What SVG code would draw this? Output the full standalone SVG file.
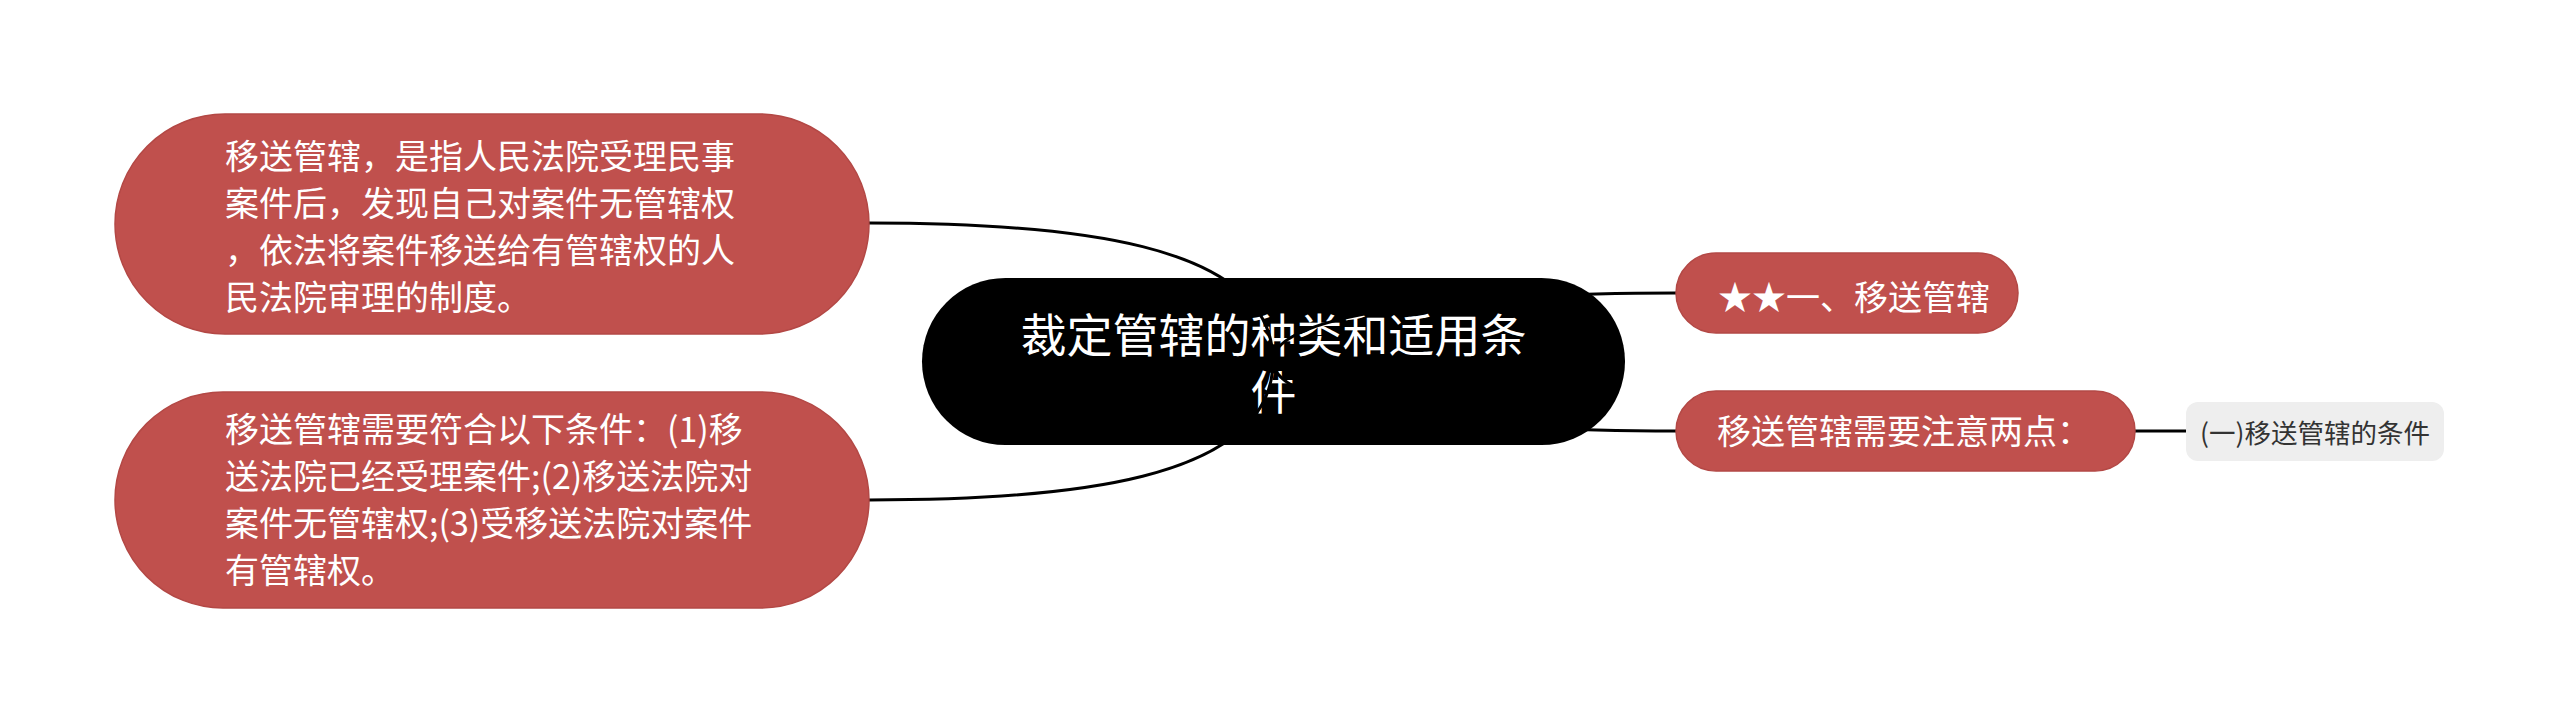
<svg xmlns="http://www.w3.org/2000/svg" width="2560" height="725" viewBox="0 0 2560 725">
<style>
.txt{font-family:"Noto Sans CJK SC","Microsoft YaHei",sans-serif;}
.red{fill:#c0504d;stroke:#b34845;stroke-width:1.5;}
.wt{fill:#ffffff;font-size:34px;}
.link{fill:none;stroke:#000000;stroke-width:3;}
</style>
<rect x="0" y="0" width="2560" height="725" fill="#ffffff"/>
<g id="root">
<rect x="922" y="278" width="703" height="167" rx="83.5" fill="#000000"/>
<text class="txt" fill="#ffffff" font-size="46" text-anchor="middle"><tspan x="1273.5" y="352">裁定管辖的种类和适用条</tspan><tspan x="1273.5" y="409">件</tspan></text>
</g>
<g id="connectors">
<path class="link" d="M869 223 C1060 223 1273 240 1273 361"/>
<path class="link" d="M869 500 C1060 500 1273 483 1273 361"/>
<path class="link" d="M1273 361 C1273 310 1485 293 1676 293"/>
<path class="link" d="M1273 361 C1273 412 1485 431 1676 431"/>
<path class="link" d="M2135 431 L2186 431"/>
</g>
<g id="node-def">
<rect class="red" x="115" y="114" width="754" height="220" rx="110"/>
<text class="txt wt"><tspan x="225" y="169">移送管辖，是指人民法院受理民事</tspan><tspan x="225" y="216">案件后，发现自己对案件无管辖权</tspan><tspan x="225" y="263">，依法将案件移送给有管辖权的人</tspan><tspan x="225" y="310">民法院审理的制度。</tspan></text>
</g>
<g id="node-cond">
<rect class="red" x="115" y="392" width="754" height="216" rx="108"/>
<text class="txt wt"><tspan x="225" y="442">移送管辖需要符合以下条件：(1)移</tspan><tspan x="225" y="489">送法院已经受理案件;(2)移送法院对</tspan><tspan x="225" y="536">案件无管辖权;(3)受移送法院对案件</tspan><tspan x="225" y="583">有管辖权。</tspan></text>
</g>
<g id="node-transfer">
<rect class="red" x="1676" y="253" width="342" height="80" rx="40"/>
<text class="txt wt" x="1718" y="310">★★一、移送管辖</text>
</g>
<g id="node-notes">
<rect class="red" x="1676" y="391" width="459" height="80" rx="40"/>
<text class="txt wt" x="1717" y="444">移送管辖需要注意两点：</text>
</g>
<g id="node-leaf">
<rect x="2186" y="402" width="258" height="59" rx="12" fill="#eeeeee"/>
<text class="txt" x="2200" y="443" font-size="26.5" fill="#333333">(一)移送管辖的条件</text>
</g>
</svg>
